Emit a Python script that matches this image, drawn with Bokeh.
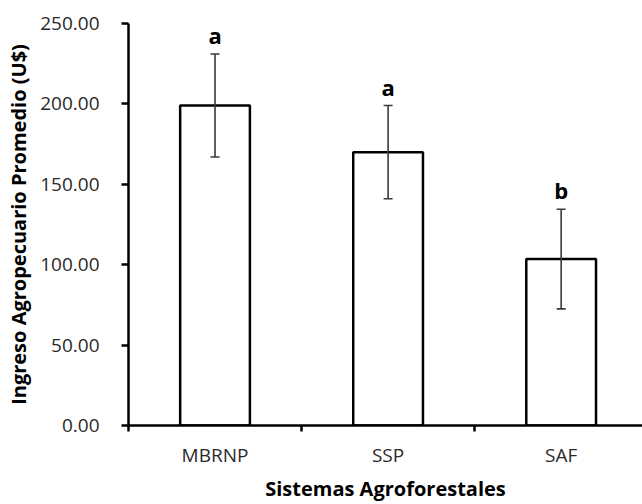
from bokeh.plotting import figure
from bokeh.models import ColumnDataSource, Range1d, FixedTicker, Whisker, TeeHead, NumeralTickFormatter
from bokeh.core.properties import value
from bokeh.embed import file_html
from bokeh.resources import INLINE

categories = ["MBRNP", "SSP", "SAF"]
means = [199.0, 170.0, 103.5]
errors = [32.0, 29.0, 31.0]
letters = ["a", "a", "b"]
y_ticks = [0, 50, 100, 150, 200, 250]

FONT = "Open Sans"

xpos = [i + 0.5 for i in range(len(categories))]
src = ColumnDataSource(dict(
    x=xpos, top=means, cat=categories, letter=letters,
    upper=[m + e for m, e in zip(means, errors)],
    lower=[m - e for m, e in zip(means, errors)],
))

p = figure(width=642, height=504, output_backend="svg", toolbar_location=None,
           x_range=Range1d(0, 2.97), y_range=Range1d(0, 250),
           min_border_left=128, min_border_top=23, min_border_right=0, min_border_bottom=77)
p.outline_line_color = None
p.xgrid.visible = False
p.ygrid.visible = False
p.background_fill_color = "white"
p.border_fill_color = "white"

p.vbar(x="x", top="top", width=0.403, bottom=0, source=src,
       fill_color="white", line_color="black", line_width=2.5)

wk = Whisker(base="x", upper="upper", lower="lower", source=src,
             line_color="#3a3a3a", line_width=1.6, level="overlay",
             upper_head=TeeHead(size=9, line_color="#3a3a3a", line_width=1.6),
             lower_head=TeeHead(size=9, line_color="#3a3a3a", line_width=1.6))
p.add_layout(wk)

p.text(x="x", y="upper", text="letter", source=src, text_align="center",
       text_baseline="bottom", y_offset=-4, text_font=value(FONT),
       text_font_style="bold", text_font_size="22px", text_color="black")

# x axis
xa = p.xaxis[0]
xa.ticker = FixedTicker(ticks=xpos, minor_ticks=list(range(len(categories) + 1)))
xa.major_label_overrides = {x: c for x, c in zip(xpos, categories)}
xa.major_tick_out = 0
xa.major_tick_in = 0
xa.minor_tick_out = 6
xa.minor_tick_in = 0
xa.minor_tick_line_width = 2.5
xa.minor_tick_line_color = "black"
xa.axis_line_width = 2.5
xa.axis_line_color = "black"
xa.major_label_text_font = FONT
xa.major_label_text_font_size = "19px"
xa.major_label_text_color = "#2a2a2a"
xa.major_label_standoff = 10
xa.axis_label = "Sistemas Agroforestales"
xa.axis_label_text_font = FONT
xa.axis_label_text_font_size = "20px"
xa.axis_label_text_font_style = "bold"
xa.axis_label_text_color = "black"
xa.axis_label_standoff = 4

# y axis
ya = p.yaxis[0]
ya.ticker = FixedTicker(ticks=y_ticks)
ya.formatter = NumeralTickFormatter(format="0.00")
ya.major_tick_out = 7
ya.major_tick_in = 0
ya.minor_tick_out = 0
ya.minor_tick_in = 0
ya.major_tick_line_width = 2.5
ya.major_tick_line_color = "black"
ya.axis_line_width = 2.5
ya.axis_line_color = "black"
ya.major_label_text_font = FONT
ya.major_label_text_font_size = "19px"
ya.major_label_text_color = "#2a2a2a"
ya.major_label_standoff = 22
ya.axis_label = "Ingreso Agropecuario Promedio (U$)"
ya.axis_label_text_font = FONT
ya.axis_label_text_font_size = "20px"
ya.axis_label_text_font_style = "bold"
ya.axis_label_text_color = "black"
ya.axis_label_standoff = 5

open("out.html", "w").write(file_html(p, INLINE))
